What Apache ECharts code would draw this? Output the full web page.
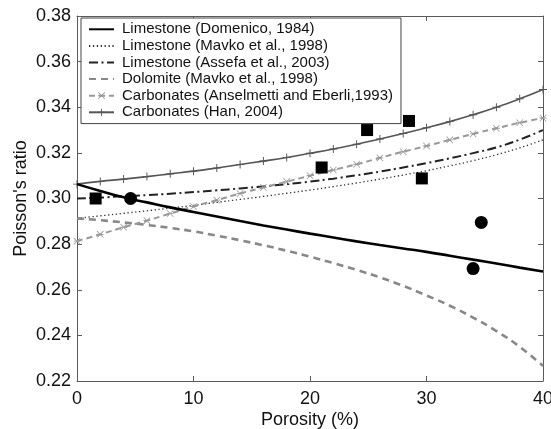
<!DOCTYPE html>
<html>
<head>
<meta charset="utf-8">
<script src="https://cdn.jsdelivr.net/npm/echarts@6/dist/echarts.min.js"></script>
<style>
html,body{margin:0;padding:0;background:#fff;}
#chart{width:551px;height:429px;}
</style>
</head>
<body>
<div id="chart"></div>
<script>
const porosity = [0,2,4,6,8,10,12,14,16,18,20,22,24,26,28,30,32,34,36,38,40];
const domenico = [0.3063,0.3033,0.3005,0.2983,0.2961,0.2941,0.2921,0.2901,0.2882,0.2864,0.2846,0.2829,0.2812,0.2796,0.2781,0.2766,0.2749,0.2732,0.2715,0.2697,0.2680];
const mavkoLime = [0.2913,0.2924,0.2935,0.2946,0.2958,0.2970,0.2983,0.2996,0.3009,0.3023,0.3037,0.3052,0.3068,0.3085,0.3103,0.3122,0.3143,0.3166,0.3192,0.3222,0.3257];
const assefa = [0.3000,0.3004,0.3010,0.3015,0.3021,0.3028,0.3036,0.3044,0.3053,0.3063,0.3074,0.3087,0.3102,0.3118,0.3136,0.3155,0.3176,0.3199,0.3224,0.3258,0.3300];
const dolomite = [0.2913,0.2905,0.2895,0.2884,0.2871,0.2856,0.2837,0.2817,0.2795,0.2771,0.2745,0.2717,0.2687,0.2654,0.2617,0.2575,0.2530,0.2478,0.2419,0.2350,0.2266];
const anselmetti = [0.2813,0.2843,0.2874,0.2903,0.2934,0.2965,0.2993,0.3022,0.3048,0.3074,0.3100,0.3125,0.3150,0.3178,0.3205,0.3230,0.3257,0.3283,0.3308,0.3332,0.3353];
const han = [0.3063,0.3075,0.3085,0.3096,0.3108,0.3120,0.3134,0.3149,0.3164,0.3180,0.3198,0.3217,0.3238,0.3261,0.3285,0.3310,0.3337,0.3367,0.3400,0.3437,0.3478];

const squaresX = [1.6, 21.0, 24.9, 28.5, 29.6];
const squaresY = [0.300, 0.3136, 0.330, 0.334, 0.3088];
const circlesX = [4.6, 34.0, 34.7];
const circlesY = [0.300, 0.2693, 0.2895];

const seriesNames = [
  'Limestone (Domenico, 1984)',
  'Limestone (Mavko et al., 1998)',
  'Limestone (Assefa et al., 2003)',
  'Dolomite (Mavko et al., 1998)',
  'Carbonates (Anselmetti and Eberli,1993)',
  'Carbonates (Han, 2004)'
];

const yTicks = ['0.22','0.24','0.26','0.28','0.30','0.32','0.34','0.36','0.38'];
const xTicks = ['0','10','20','30','40'];

const pair = (xs, ys) => xs.map((x, i) => [x, ys[i]]);

const plusPath = 'path://M4.4,0 L5.6,0 L5.6,4.4 L10,4.4 L10,5.6 L5.6,5.6 L5.6,10 L4.4,10 L4.4,5.6 L0,5.6 L0,4.4 L4.4,4.4 Z';
const starPath = 'path://M0.8,0 L5,4.2 L9.2,0 L10,0.8 L5.8,5 L10,9.2 L9.2,10 L5,5.8 L0.8,10 L0,9.2 L4.2,5 L0,0.8 Z M0,4.4 L10,4.4 L10,5.6 L0,5.6 Z';

const font = 'Liberation Sans, Arial, Helvetica, sans-serif';
const frameColor = '#5a5a5a';

const chart = echarts.init(document.getElementById('chart'), null, {renderer: 'canvas'});

const hiddenMarker = {opacity: 0};
const option = {
  animation: false,
  backgroundColor: '#fff',
  grid: {left: 77, right: 8, top: 16, bottom: 48, containLabel: false, outerBoundsMode: 'none'},
  legend: {
    orient: 'vertical',
    left: 81, top: 18,
    padding: [3, 8, 3, 7],
    itemWidth: 25, itemHeight: 9,
    itemGap: 0,
    backgroundColor: '#fff',
    borderColor: '#444', borderWidth: 1, borderRadius: 0,
    textStyle: {fontFamily: font, fontSize: 15, color: '#111', lineHeight: 16.6, padding: [0,0,0,3]},
    data: [
      {name: seriesNames[0], itemStyle: hiddenMarker},
      {name: seriesNames[1], itemStyle: hiddenMarker},
      {name: seriesNames[2], itemStyle: hiddenMarker},
      {name: seriesNames[3], itemStyle: hiddenMarker},
      {name: seriesNames[4]},
      {name: seriesNames[5]}
    ]
  },
  xAxis: [{
    type: 'value', min: 0, max: 40, interval: 10,
    name: 'Porosity (%)', nameLocation: 'middle', nameGap: 30, nameMoveOverlap: false,
    nameTextStyle: {fontFamily: font, fontSize: 18, color: '#111'},
    axisLine: {show: true, onZero: false, lineStyle: {color: frameColor, width: 1}},
    axisTick: {show: true, inside: true, length: 5, lineStyle: {color: frameColor}},
    axisLabel: {fontFamily: font, fontSize: 18, color: '#111', margin: 9,
      formatter: v => xTicks[Math.round(v/10)]},
    splitLine: {show: false}
  }, {
    type: 'value', min: 0, max: 40, interval: 10, position: 'top',
    axisLine: {show: true, onZero: false, lineStyle: {color: frameColor, width: 1}},
    axisTick: {show: true, inside: true, length: 5, lineStyle: {color: frameColor}},
    axisLabel: {show: false}, splitLine: {show: false}
  }],
  yAxis: [{
    type: 'value', min: 0.22, max: 0.38, interval: 0.02,
    name: "Poisson's ratio", nameLocation: 'middle', nameGap: 47, nameMoveOverlap: false,
    nameTextStyle: {fontFamily: font, fontSize: 18, color: '#111'},
    axisLine: {show: true, onZero: false, lineStyle: {color: frameColor, width: 1}},
    axisTick: {show: true, inside: true, length: 5, lineStyle: {color: frameColor}},
    axisLabel: {fontFamily: font, fontSize: 18, color: '#111', margin: 6,
      formatter: v => yTicks[Math.round((v - 0.22)/0.02)]},
    splitLine: {show: false}
  }, {
    type: 'value', min: 0.22, max: 0.38, interval: 0.02, position: 'right',
    axisLine: {show: true, onZero: false, lineStyle: {color: frameColor, width: 1}},
    axisTick: {show: true, inside: true, length: 5, lineStyle: {color: frameColor}},
    axisLabel: {show: false}, splitLine: {show: false}
  }],
  series: [
    {
      name: seriesNames[0], type: 'line', smooth: true, showSymbol: false, symbol: 'none',
      data: pair(porosity, domenico),
      lineStyle: {color: '#000', width: 2.6, type: 'solid'},
      itemStyle: {color: '#000'}, z: 5
    },
    {
      name: seriesNames[1], type: 'line', smooth: true, showSymbol: false, symbol: 'none',
      data: pair(porosity, mavkoLime),
      lineStyle: {color: '#333', width: 1.3, type: [1.3, 2.6]},
      itemStyle: {color: '#333'}, z: 3
    },
    {
      name: seriesNames[2], type: 'line', smooth: true, showSymbol: false, symbol: 'none',
      data: pair(porosity, assefa),
      lineStyle: {color: '#222', width: 2, type: [9, 3.5, 2, 3.5]},
      itemStyle: {color: '#222'}, z: 3
    },
    {
      name: seriesNames[3], type: 'line', smooth: true, showSymbol: false, symbol: 'none',
      data: pair(porosity, dolomite),
      lineStyle: {color: '#888', width: 2.6, type: [7, 5]},
      itemStyle: {color: '#888'}, z: 3
    },
    {
      name: seriesNames[4], type: 'line', smooth: true, showSymbol: true,
      symbol: starPath, symbolSize: 7,
      data: pair(porosity, anselmetti),
      lineStyle: {color: '#999', width: 2, type: [6, 4]},
      itemStyle: {color: '#999'}, z: 4
    },
    {
      name: seriesNames[5], type: 'line', smooth: true, showSymbol: true,
      symbol: plusPath, symbolSize: 8,
      data: pair(porosity, han),
      lineStyle: {color: '#555', width: 1.6, type: 'solid'},
      itemStyle: {color: '#555'}, z: 4
    },
    {
      name: 'squares', type: 'scatter', symbol: 'rect', symbolSize: 12,
      data: pair(squaresX, squaresY),
      itemStyle: {color: '#000', opacity: 1}, z: 10
    },
    {
      name: 'circles', type: 'scatter', symbol: 'circle', symbolSize: 13,
      data: pair(circlesX, circlesY),
      itemStyle: {color: '#000', opacity: 1}, z: 10
    }
  ]
};
chart.setOption(option);
</script>
</body>
</html>
